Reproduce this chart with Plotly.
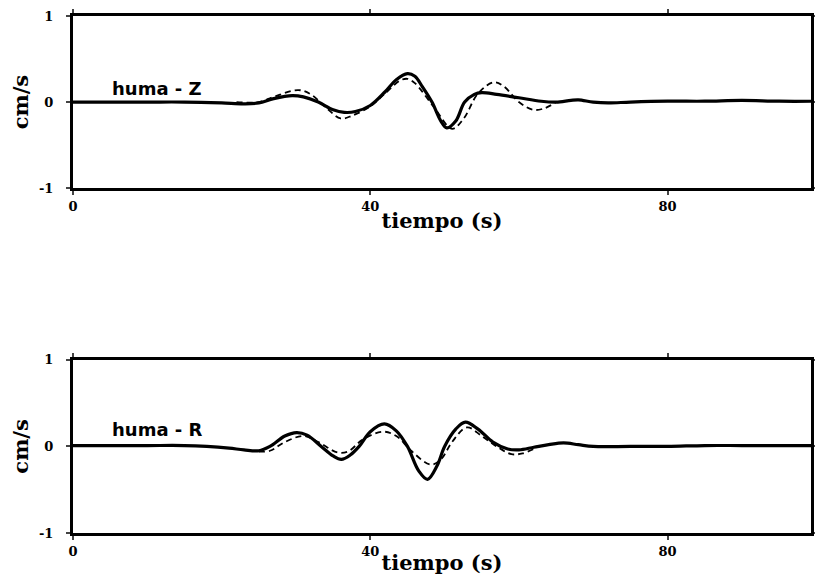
import plotly.graph_objects as go
from plotly.subplots import make_subplots

# componente Z (observado = continuo, sintetico = discontinuo)
t_z_obs = [0, 5, 10, 15, 20, 23, 25, 27, 29.5, 31, 33, 35, 36.5, 38, 40, 42, 43.5, 45, 46, 47,
           48.3, 49.5, 50.3, 51.5, 52.7, 54, 55, 57, 60, 63, 65, 67, 68, 70, 72, 75, 80, 85, 90, 95, 100]
v_z_obs = [0, 0, 0, 0, -0.01, -0.02, -0.01, 0.04, 0.075, 0.06, 0.0, -0.09, -0.12, -0.11, -0.04, 0.12, 0.26, 0.33,
           0.3, 0.18, 0.0, -0.22, -0.3, -0.22, 0.0, 0.09, 0.11, 0.09, 0.05, 0.01, 0.0, 0.02, 0.025, 0.0,
           -0.01, 0.0, 0.01, 0.01, 0.02, 0.01, 0.01]
t_z_syn = [22, 25, 27, 30.3, 32, 34, 36, 37.5, 40, 42, 44, 45, 46, 48.5, 51, 52.5, 54.5, 56.6, 58, 60, 62, 63.5, 65]
v_z_syn = [0, 0, 0.06, 0.14, 0.09, -0.06, -0.19, -0.16, -0.05, 0.1, 0.25, 0.27, 0.22, -0.05, -0.31, -0.2,
           0.1, 0.23, 0.18, 0.0, -0.09, -0.07, 0.0]

# componente R
t_r_obs = [0, 5, 10, 15, 18, 21, 23, 25, 26.5, 28.5, 30.1, 31.5, 33.4, 35, 36.1, 37.3, 38.5, 40, 41.9, 43.5,
           45, 46.5, 47.7, 49, 50, 51.5, 52.8, 54.5, 56.5, 58.5, 60, 62, 64, 66, 68, 70, 75, 80, 85, 90, 95, 100]
v_r_obs = [0.01, 0.01, 0.01, 0.01, 0.0, -0.02, -0.04, -0.05, 0.0, 0.12, 0.16, 0.13, 0.0, -0.11, -0.15, -0.1,
           0.0, 0.17, 0.26, 0.18, 0.0, -0.28, -0.38, -0.22, 0.0, 0.2, 0.28, 0.2, 0.05, -0.03, -0.04, -0.01,
           0.02, 0.04, 0.02, 0.0, 0.0, 0.0, 0.01, 0.01, 0.01, 0.01]
t_r_syn = [25, 26.5, 28.5, 31, 33, 35.6, 37, 39, 41.7, 43.5, 45.5, 48.1, 49.5, 51, 53, 55, 57, 59, 60.5, 62]
v_r_syn = [-0.06, -0.05, 0.05, 0.12, 0.05, -0.07, -0.06, 0.08, 0.17, 0.12, -0.05, -0.21, -0.15, 0.05, 0.22,
           0.12, 0.0, -0.09, -0.08, -0.03]

labels = ["huma - Z", "huma - R"]
label_y = [0.16, 0.19]

fig = make_subplots(rows=2, cols=1, vertical_spacing=0.33)

series = [(t_z_obs, v_z_obs, t_z_syn, v_z_syn), (t_r_obs, v_r_obs, t_r_syn, v_r_syn)]
for i, (to, vo, ts, vs) in enumerate(series):
    r = i + 1
    fig.add_trace(go.Scatter(x=ts, y=vs, mode="lines",
                             line=dict(color="black", width=1.8, dash="6px,4px", shape="spline")),
                  row=r, col=1)
    fig.add_trace(go.Scatter(x=to, y=vo, mode="lines", line=dict(color="black", width=3.2, shape="spline")),
                  row=r, col=1)
    fig.add_annotation(x=5, y=label_y[i], xref="x" if r == 1 else "x2", yref="y" if r == 1 else "y2",
                       text=labels[i], showarrow=False, xanchor="left", yanchor="middle",
                       font=dict(family="DejaVu Sans", size=18, color="black", weight="bold"))

serif = dict(family="DejaVu Serif", color="black", weight="bold")

fig.update_xaxes(range=[0, 99.3], tickvals=[0, 40, 80], ticks="outside", ticklen=4, tickwidth=2,
                 showline=True, linewidth=3, linecolor="black", mirror="ticks", showgrid=False, zeroline=False,
                 automargin=False, tickfont=dict(size=13, **serif),
                 title=dict(text="tiempo (s)", font=dict(size=21, **serif), standoff=1))
fig.update_yaxes(range=[-1, 1], tickvals=[-1, 0, 1], ticktext=["-1", "0", "1"], ticks="outside", ticklen=4,
                 tickwidth=2, ticklabelstandoff=10, showline=True, linewidth=3, linecolor="black",
                 mirror="ticks", showgrid=False, zeroline=False, automargin=False,
                 tickfont=dict(size=13, **serif),
                 title=dict(text="cm/s", font=dict(size=21, **serif), standoff=9))

fig.update_layout(
    width=807, height=567,
    margin=dict(l=65, r=4, t=8, b=42),
    plot_bgcolor="white", paper_bgcolor="white",
    showlegend=False,
)
fig.update_layout(yaxis=dict(domain=[0.667, 1.0]), yaxis2=dict(domain=[0.0, 0.335]))

fig.write_html("out.html")
